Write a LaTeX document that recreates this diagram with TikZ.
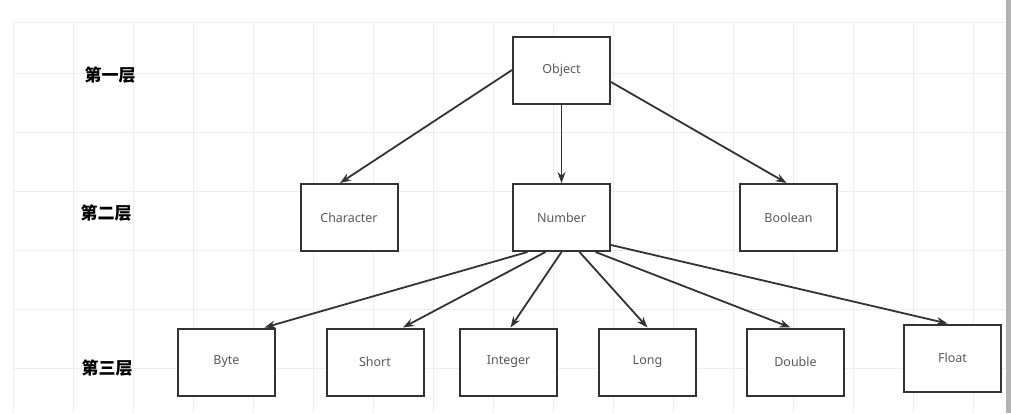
\documentclass[tikz,border=0pt]{standalone}
\usepackage{fontspec}
\setmainfont{Noto Sans}
\newfontfamily\cjk{Noto Sans CJK SC}
\usepackage{tikz}
\usetikzlibrary{arrows.meta, positioning}
\definecolor{gridgray}{HTML}{EEEEEE}
\definecolor{boxline}{HTML}{333333}
\definecolor{labelgray}{HTML}{5A5A5A}

\begin{document}
\begin{tikzpicture}[x=1pt, y=-1pt,
        typebox/.style={draw=boxline, line width=2pt, fill=white, minimum width=97pt, minimum height=67pt,
            inner sep=0pt, text=labelgray, font=\fontsize{12.5}{14}\selectfont},
        layer/.style={font=\cjk\bfseries\fontsize{17}{20}\selectfont},
        link/.style={draw=boxline, line width=1.8pt, -{Stealth[length=11pt, width=8pt]}}]
            \useasboundingbox (0,0) rectangle (1011,413);
            \fill[white] (0,0) rectangle (1011,413);

            % background grid
            \foreach \gx in {13,73,...,1005} \draw[gridgray] (\gx,22) -- (\gx,413);
            \foreach \gy in {73,132,...,413} \draw[gridgray] (13,\gy) -- (1005,\gy);
            \draw[gridgray] (13,22) -- (1005,22);
            \fill[black!30] (1006,0) rectangle (1011,413);

            \node[layer] (layer1) at (110,75) {第一层};
            \node[layer] (layer2) at (106,213) {第二层};
            \node[layer] (layer3) at (107,368) {第三层};

            \node[typebox] (object) at (561.5,70) {Object};
            \node[typebox] (character) at (349,217.5) {Character};
            \node[typebox] (number) at (561.5,217.5) {Number};
            \node[typebox] (boolean) at (788.5,217.5) {Boolean};

            \node[typebox] (byte) at (226.5,362) {Byte};
            \node[typebox] (short) at (375,362) {Short};
            \node[typebox] (integer) at (508.5,362) {Integer};
            \node[typebox] (long) at (647.5,362) {Long};
            \node[typebox] (double) at (795.5,362) {Double};
            \node[typebox] (float) at (952.5,358) {Float};

            \draw[link] (object.west) -- ([xshift=-9pt]character.north);
            \draw[link] (object.south) -- (number.north);
            \draw[link] ([yshift=-12pt]object.east) -- ([xshift=-2pt]boolean.north);

            \draw[link] ([xshift=-34pt]number.south) -- ([xshift=38pt]byte.north);
            \draw[link] ([xshift=-16pt]number.south) -- ([xshift=28pt]short.north);
            \draw[link] (number.south) -- ([xshift=2pt]integer.north);
            \draw[link] ([xshift=18pt]number.south) -- (long.north);
            \draw[link] ([xshift=34pt]number.south) -- ([xshift=-5pt]double.north);
            \draw[link] ([yshift=7pt]number.south east) -- ([xshift=-5pt]float.north);
        \end{tikzpicture}
\end{document}
